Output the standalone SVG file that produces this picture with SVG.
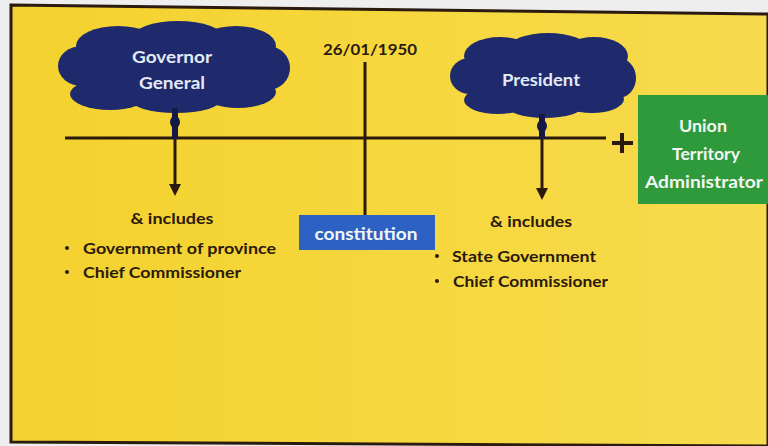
<svg xmlns="http://www.w3.org/2000/svg" width="768" height="446" viewBox="0 0 768 446">
  <defs>
    <linearGradient id="board" x1="0" y1="0" x2="1" y2="0">
      <stop offset="0" stop-color="#f3d12e"/>
      <stop offset="0.5" stop-color="#f6d73c"/>
      <stop offset="1" stop-color="#f7da4e"/>
    </linearGradient>
    <marker id="arrow" viewBox="0 0 10 10" refX="5" refY="5" markerWidth="4" markerHeight="4" orient="auto">
      <path d="M0,0 L10,5 L0,10 z" fill="#2b1a0c"/>
    </marker>
  </defs>
  <style>
    .line { stroke: #2b1a0c; stroke-width: 3; fill: none; }
    .cloud { fill: #1e2a6b; }
    .stalk { fill: #141a45; }
    .t { font-family: Lato, "Liberation Sans", sans-serif; font-weight: bold; }
    .dark { fill: #2b1a0c; }
    .light { fill: #e3e9f6; }
    .white { fill: #f2f6f2; }
  </style>

  <!-- page and board -->
  <rect x="0" y="0" width="768" height="446" fill="#eeeeee"/>
  <polygon points="11,5 768,14 768,446 11,442" fill="url(#board)" stroke="#2a1a10" stroke-width="3"/>

  <!-- connectors -->
  <g id="connectors">
    <line class="line" x1="65" y1="138" x2="606" y2="138"/>
    <line class="line" x1="365" y1="62" x2="365" y2="216"/>
    <line class="line" x1="175" y1="138" x2="175" y2="190" marker-end="url(#arrow)"/>
    <line class="line" x1="542" y1="138" x2="542" y2="194" marker-end="url(#arrow)"/>
    <g id="plus">
      <line x1="612" y1="143" x2="633" y2="143" stroke="#2b1a0c" stroke-width="4"/>
      <line x1="622" y1="133" x2="622" y2="153" stroke="#2b1a0c" stroke-width="4"/>
    </g>
  </g>

  <!-- Governor General cloud -->
  <g id="governor-general">
    <g class="cloud">
      <ellipse cx="173" cy="70" rx="105" ry="34"/>
      <ellipse cx="118" cy="46" rx="42" ry="20"/>
      <ellipse cx="178" cy="38" rx="46" ry="17"/>
      <ellipse cx="236" cy="46" rx="40" ry="20"/>
      <ellipse cx="82" cy="66" rx="24" ry="20"/>
      <ellipse cx="268" cy="68" rx="22" ry="22"/>
      <ellipse cx="110" cy="94" rx="40" ry="16"/>
      <ellipse cx="176" cy="99" rx="46" ry="14"/>
      <ellipse cx="238" cy="92" rx="38" ry="16"/>
    </g>
    <g class="stalk">
      <rect x="172" y="108" width="6" height="31"/>
      <ellipse cx="175" cy="122" rx="5" ry="6"/>
    </g>
    <text class="t light" x="172" y="63" font-size="17" text-anchor="middle" textLength="80" lengthAdjust="spacingAndGlyphs">Governor</text>
    <text class="t light" x="172" y="89" font-size="17" text-anchor="middle" textLength="66" lengthAdjust="spacingAndGlyphs">General</text>
  </g>

  <!-- date marker -->
  <g id="date">
    <text class="t dark" x="370" y="55" font-size="15" text-anchor="middle" textLength="94" lengthAdjust="spacingAndGlyphs">26/01/1950</text>
  </g>

  <!-- President cloud -->
  <g id="president">
    <g class="cloud">
      <ellipse cx="543" cy="78" rx="84" ry="32"/>
      <ellipse cx="500" cy="56" rx="36" ry="19"/>
      <ellipse cx="548" cy="48" rx="40" ry="15"/>
      <ellipse cx="594" cy="56" rx="34" ry="19"/>
      <ellipse cx="470" cy="76" rx="20" ry="18"/>
      <ellipse cx="618" cy="78" rx="18" ry="20"/>
      <ellipse cx="498" cy="100" rx="34" ry="14"/>
      <ellipse cx="545" cy="106" rx="38" ry="12"/>
      <ellipse cx="592" cy="99" rx="32" ry="14"/>
    </g>
    <g class="stalk">
      <rect x="539" y="114" width="6" height="25"/>
      <ellipse cx="542" cy="126" rx="5" ry="6"/>
    </g>
    <text class="t light" x="541" y="86" font-size="17" text-anchor="middle" textLength="78" lengthAdjust="spacingAndGlyphs">President</text>
  </g>

  <!-- Union Territory Administrator box -->
  <g id="union-territory">
    <rect x="638" y="95" width="130" height="109" fill="#2f9a3c"/>
    <text class="t white" x="703" y="132" font-size="17" text-anchor="middle" textLength="48" lengthAdjust="spacingAndGlyphs">Union</text>
    <text class="t white" x="706" y="160" font-size="17" text-anchor="middle" textLength="68" lengthAdjust="spacingAndGlyphs">Territory</text>
    <text class="t white" x="704" y="188" font-size="17" text-anchor="middle" textLength="118" lengthAdjust="spacingAndGlyphs">Administrator</text>
  </g>

  <!-- constitution box -->
  <g id="constitution">
    <rect x="299" y="215" width="136" height="35" fill="#2d62c4"/>
    <text class="t white" x="366" y="240" font-size="17" text-anchor="middle" textLength="103" lengthAdjust="spacingAndGlyphs">constitution</text>
  </g>

  <!-- left list -->
  <g id="left-includes">
    <text class="t dark" x="172" y="224" font-size="16" text-anchor="middle" textLength="83" lengthAdjust="spacingAndGlyphs">&amp; includes</text>
    <circle cx="67" cy="248" r="2" fill="#2b1a0c"/>
    <text class="t dark" x="83" y="254" font-size="16" textLength="193" lengthAdjust="spacingAndGlyphs">Government of province</text>
    <circle cx="67" cy="272" r="2" fill="#2b1a0c"/>
    <text class="t dark" x="83" y="278" font-size="16" textLength="158" lengthAdjust="spacingAndGlyphs">Chief Commissioner</text>
  </g>

  <!-- right list -->
  <g id="right-includes">
    <text class="t dark" x="531" y="227" font-size="16" text-anchor="middle" textLength="82" lengthAdjust="spacingAndGlyphs">&amp; includes</text>
    <circle cx="437" cy="256" r="2" fill="#2b1a0c"/>
    <text class="t dark" x="452" y="262" font-size="16" textLength="144" lengthAdjust="spacingAndGlyphs">State Government</text>
    <circle cx="437" cy="281" r="2" fill="#2b1a0c"/>
    <text class="t dark" x="453" y="287" font-size="16" textLength="155" lengthAdjust="spacingAndGlyphs">Chief Commissioner</text>
  </g>
</svg>
